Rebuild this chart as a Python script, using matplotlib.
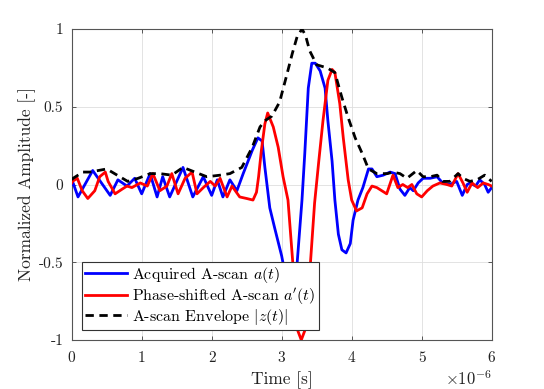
import matplotlib
matplotlib.use("Agg")
import matplotlib.pyplot as plt
import numpy as np

# ---------------- data (time in microseconds) ----------------
t_acq = [0.00, 0.02, 0.09, 0.30, 0.55, 0.66, 0.79, 0.90, 1.00, 1.12,
         1.22, 1.30, 1.40, 1.59, 1.73, 1.88, 2.00, 2.08, 2.16, 2.26,
         2.36, 2.45, 2.58, 2.66, 2.72, 2.76, 2.83, 2.90, 3.00, 3.06,
         3.12, 3.17, 3.22, 3.29, 3.33, 3.38, 3.43, 3.48, 3.55, 3.62,
         3.66, 3.72, 3.76, 3.81, 3.86, 3.92, 3.98, 4.02, 4.09, 4.16,
         4.24, 4.29, 4.36, 4.45, 4.55, 4.62, 4.69, 4.76, 4.83, 4.88,
         4.95, 5.02, 5.12, 5.22, 5.30, 5.40, 5.50, 5.58, 5.65, 5.69,
         5.77, 5.83, 5.90, 5.95, 6.00]
a_acq = [0.00, 0.01, -0.08, 0.09, -0.07, 0.03, -0.01, 0.04, -0.06, 0.07,
         -0.08, 0.05, -0.08, 0.11, -0.08, 0.05, -0.07, 0.03, -0.08, 0.03,
         -0.04, 0.07, 0.22, 0.30, 0.28, 0.11, -0.15, -0.28, -0.46, -0.60,
         -0.74, -0.70, -0.51, -0.10, 0.20, 0.62, 0.78, 0.78, 0.73, 0.62,
         0.41, 0.15, -0.10, -0.32, -0.42, -0.44, -0.38, -0.23, -0.10, -0.02,
         0.10, 0.10, 0.05, 0.06, 0.08, 0.07, -0.03, -0.07, -0.02, -0.04,
         0.01, 0.04, 0.04, 0.05, 0.01, 0.00, 0.02, -0.07, 0.00, 0.01,
         -0.01, 0.03, 0.00, -0.05, -0.02]

t_phs = [0.00, 0.01, 0.08, 0.15, 0.23, 0.33, 0.40, 0.48, 0.52, 0.62,
         0.72, 0.79, 0.86, 0.98, 1.08, 1.16, 1.26, 1.36, 1.43, 1.52,
         1.62, 1.72, 1.79, 1.88, 1.98, 2.05, 2.12, 2.22, 2.29, 2.40,
         2.50, 2.59, 2.64, 2.67, 2.71, 2.76, 2.80, 2.88, 2.95, 3.02,
         3.09, 3.16, 3.23, 3.28, 3.33, 3.41, 3.47, 3.53, 3.59, 3.66,
         3.72, 3.76, 3.83, 3.88, 3.95, 4.00, 4.07, 4.15, 4.22, 4.29,
         4.36, 4.43, 4.50, 4.59, 4.66, 4.73, 4.80, 4.86, 4.93, 5.00,
         5.08, 5.16, 5.26, 5.36, 5.43, 5.52, 5.59, 5.65, 5.72, 5.80,
         5.88, 5.95, 6.00]
a_phs = [0.01, 0.02, 0.04, -0.04, -0.09, -0.04, 0.05, 0.08, 0.02, -0.06,
         -0.03, -0.01, -0.02, 0.01, -0.01, 0.07, -0.04, -0.01, 0.07, -0.06,
         0.04, 0.08, -0.06, -0.02, 0.02, -0.01, 0.04, -0.08, -0.01, -0.08,
         -0.09, -0.10, -0.05, 0.05, 0.22, 0.39, 0.46, 0.37, 0.24, 0.05,
         -0.10, -0.51, -0.94, -1.00, -0.94, -0.51, -0.12, 0.15, 0.41, 0.67,
         0.74, 0.72, 0.52, 0.30, 0.03, -0.10, -0.17, -0.15, -0.06, -0.01,
         -0.02, -0.04, -0.06, 0.06, -0.02, 0.00, -0.02, 0.00, -0.06, -0.08,
         -0.04, -0.01, 0.01, 0.00, -0.01, 0.07, 0.01, -0.05, 0.01, -0.02,
         0.01, 0.00, -0.01]

t_env = [0.00, 0.02, 0.16, 0.26, 0.50, 0.65, 0.80, 0.95, 1.12, 1.26,
         1.43, 1.59, 1.76, 1.93, 2.12, 2.26, 2.43, 2.58, 2.69, 2.76,
         2.86, 2.97, 3.07, 3.15, 3.22, 3.29, 3.34, 3.40, 3.50, 3.65,
         3.76, 3.86, 3.95, 4.05, 4.15, 4.24, 4.36, 4.51, 4.59, 4.69,
         4.79, 4.93, 5.02, 5.12, 5.22, 5.30, 5.40, 5.52, 5.59, 5.69,
         5.79, 5.90, 6.00]
a_env = [0.03, 0.04, 0.08, 0.08, 0.10, 0.06, 0.02, 0.04, 0.07, 0.07,
         0.06, 0.11, 0.08, 0.05, 0.06, 0.07, 0.11, 0.24, 0.37, 0.41,
         0.44, 0.53, 0.70, 0.84, 0.95, 1.00, 0.96, 0.86, 0.77, 0.75,
         0.72, 0.56, 0.43, 0.30, 0.20, 0.10, 0.07, 0.07, 0.08, 0.07,
         0.04, 0.09, 0.05, 0.05, 0.06, 0.02, 0.02, 0.07, 0.04, 0.02,
         0.03, 0.06, 0.02]

x_ticks = [0, 1, 2, 3, 4, 5, 6]
x_ticklabels = ["0", "1", "2", "3", "4", "5", "6"]
y_ticks = [-1, -0.5, 0, 0.5, 1]
y_ticklabels = ["-1", "-0.5", "0", "0.5", "1"]
series_labels = [r"Acquired A-scan $a(t)$",
                 r"Phase-shifted A-scan $a'(t)$",
                 r"A-scan Envelope $|z(t)|$"]

# ---------------- style ----------------
plt.rcParams["font.family"] = "serif"
plt.rcParams["font.serif"] = ["cmr10", "DejaVu Serif"]
plt.rcParams["mathtext.fontset"] = "cm"
plt.rcParams["axes.unicode_minus"] = False
plt.rcParams["axes.formatter.use_mathtext"] = True

fig = plt.figure(figsize=(5.44, 3.89), dpi=100)
ax = fig.add_axes([0.1318, 0.126, 0.7720, 0.7994])

lw = 2.0
ax.plot(t_acq, a_acq, color=(0, 0, 1), lw=lw, label=series_labels[0], zorder=3)
ax.plot(t_phs, a_phs, color=(1, 0, 0), lw=lw, label=series_labels[1], zorder=3)
ax.plot(t_env, a_env, color="k", lw=lw, ls=(0, (3.0, 2.0)), label=series_labels[2], zorder=4)

ax.set_xlim(0, 6)
ax.set_ylim(-1, 1)
ax.set_xticks(x_ticks)
ax.set_xticklabels(x_ticklabels, fontsize=11)
ax.set_yticks(y_ticks)
ax.set_yticklabels(y_ticklabels, fontsize=11)
ax.tick_params(direction="in", length=3, width=0.6, colors="#404040",
               top=True, right=True)
ax.tick_params(axis="x", pad=8)
ax.tick_params(axis="y", pad=6)
for lab in ax.get_xticklabels() + ax.get_yticklabels():
    lab.set_color("#222222")
for s in ax.spines.values():
    s.set_color("#555555")
    s.set_linewidth(0.8)
ax.grid(True, color="#dedede", lw=0.6, zorder=0)
ax.set_axisbelow(True)

ax.set_xlabel("Time [s]", fontsize=12.5, color="#222222")
ax.xaxis.set_label_coords(0.5, -0.10)
ax.set_ylabel("Normalized Amplitude [-]", fontsize=12.5, color="#222222")
ax.yaxis.set_label_coords(-0.085, 0.5)
ax.text(1.0, -0.125, r"$\times10^{-6}$", transform=ax.transAxes,
        ha="right", va="center", fontsize=12, color="#222222")

leg = ax.legend(loc="lower left", bbox_to_anchor=(0.0245, 0.032),
                borderaxespad=0, fontsize=11.5, fancybox=False,
                framealpha=1, edgecolor="#333333", handlelength=2.6,
                handletextpad=0.35, borderpad=0.2, labelspacing=0.02)
leg.get_frame().set_linewidth(0.8)
leg.set_zorder(10)

fig.savefig("out.png", dpi=100)
